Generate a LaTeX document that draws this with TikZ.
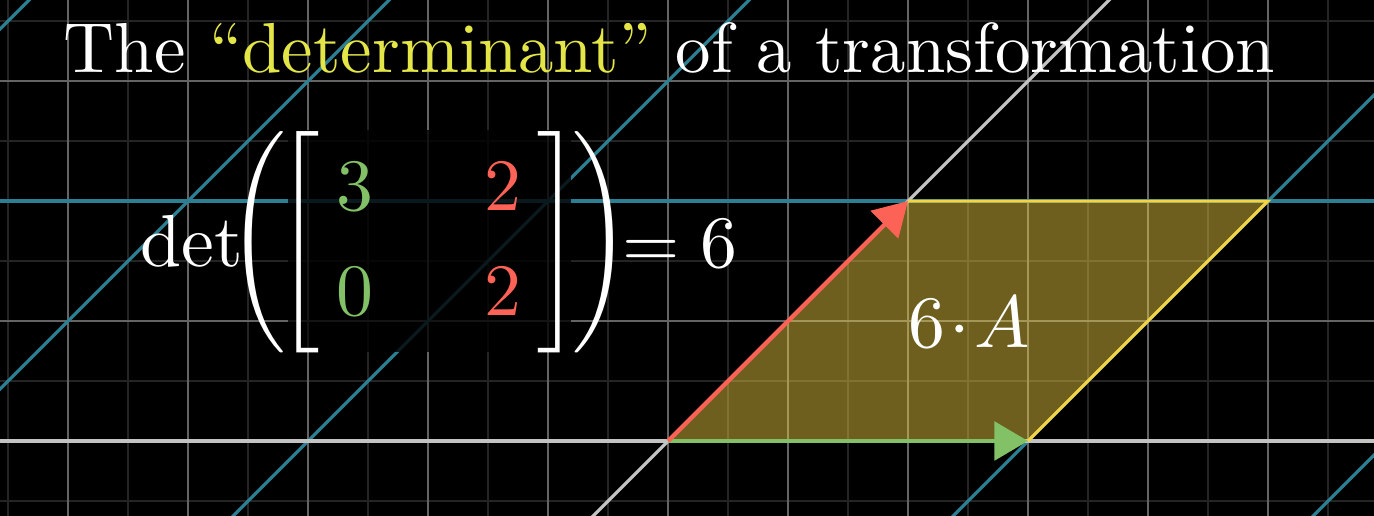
\documentclass[tikz,border=0pt]{standalone}
\usepackage{amsmath}
\usepackage{tikz}
\usetikzlibrary{arrows.meta,positioning}

\definecolor{gridmain}{RGB}{100,100,100}
\definecolor{gridfaint}{RGB}{36,36,36}
\definecolor{planeblue}{RGB}{45,128,148}
\definecolor{axiswhite}{RGB}{195,195,195}
\definecolor{ihatgreen}{RGB}{131,193,103}
\definecolor{jhatred}{RGB}{252,98,85}
\definecolor{areayellow}{RGB}{244,211,69}
\definecolor{titleyellow}{RGB}{228,230,72}

\newcommand{\tallfence}[2]{$\left#1\vcenter{\hbox{\rule{0pt}{32pt}}}\right#2$}

\begin{document}
\begin{tikzpicture}[
  txt/.style={text=white, inner sep=0pt, scale=1.68},
  mat/.style={inner sep=0pt, scale=1.75},
  vec/.style={line width=1pt, -{Triangle[length=2.8mm, width=3.2mm]}},
  node distance=0.9cm and 0.6cm
]
\fill[black] (-5.567,-0.625) rectangle (5.883,3.675);
\clip (-5.567,-0.625) rectangle (5.883,3.675);
% background plane
\foreach \x in {-5.5,-4.5,...,5.5} \draw[gridfaint, line width=0.45pt] (\x,-1) -- (\x,4);
\foreach \y in {-0.5,0.5,...,3.5} \draw[gridfaint, line width=0.45pt] (-6,\y) -- (6,\y);
\foreach \x in {-5,...,5} \draw[gridmain, line width=0.5pt] (\x,-1) -- (\x,4);
\foreach \y in {0,...,3} \draw[gridmain, line width=0.5pt] (-6,\y) -- (6,\y);
% transformed plane
\draw[planeblue, line width=0.75pt] (-6,2) -- (6,2);
\foreach \k in {-3,-2,-1,1,2} \draw[planeblue, line width=0.75pt] (3*\k-1,-1) -- (3*\k+4,4);
\draw[axiswhite, line width=0.75pt] (-6,0) -- (6,0);
\draw[axiswhite, line width=0.75pt] (-1,-1) -- (4,4);

\coordinate (O) at (0,0);
\coordinate (ihat) at (3,0);
\coordinate (jhat) at (2,2);
\coordinate (ij) at (5,2);
\fill[areayellow, fill opacity=0.45] (O) -- (ihat) -- (ij) -- (jhat) -- cycle;
\draw[areayellow, line width=0.7pt] (jhat) -- (ij) -- (ihat);
\draw[vec, ihatgreen] (O) -- (ihat);
\draw[vec, jhatred] (O) -- (jhat);

% matrix backdrop
\coordinate (matnw) at (-3.17,2.59);
\coordinate (matse) at (-0.81,0.74);
\fill[black, opacity=0.8] (matnw) rectangle (matse);

\node[txt, anchor=base west] (title) at (-5.05,3.067) {The \textcolor{titleyellow}{``determinant''} of a transformation};
\node[mat, text=white, anchor=base west] (det) at (-4.41,1.45) {$\det$};
\node[mat, text=white] (lparen) at (-3.39,1.654) {\tallfence{(}{.}};
\node[mat, text=white] (lbrack) at (-3.046,1.654) {\tallfence{[}{.}};
\node[mat, text=ihatgreen, anchor=base] (a11) at (-2.608,1.917) {$3$};
\node[mat, text=jhatred, anchor=base] (a12) at (-1.375,1.917) {$2$};
\node[mat, text=ihatgreen, anchor=base] (a21) at (-2.608,1.042) {$0$};
\node[mat, text=jhatred, anchor=base] (a22) at (-1.375,1.042) {$2$};
\node[mat, text=white] (rbrack) at (-0.942,1.654) {\tallfence{.}{]}};
\node[mat, text=white] (rparen) at (-0.592,1.654) {\tallfence{.}{)}};
\node[mat, text=white, anchor=base west] (eq) at (-0.39,1.442) {$=6$};
\node[mat, text=white, anchor=base] (area) at (2.508,0.783) {$6\mkern-3mu\cdot\mkern-3mu A$};
\end{tikzpicture}
\end{document}
